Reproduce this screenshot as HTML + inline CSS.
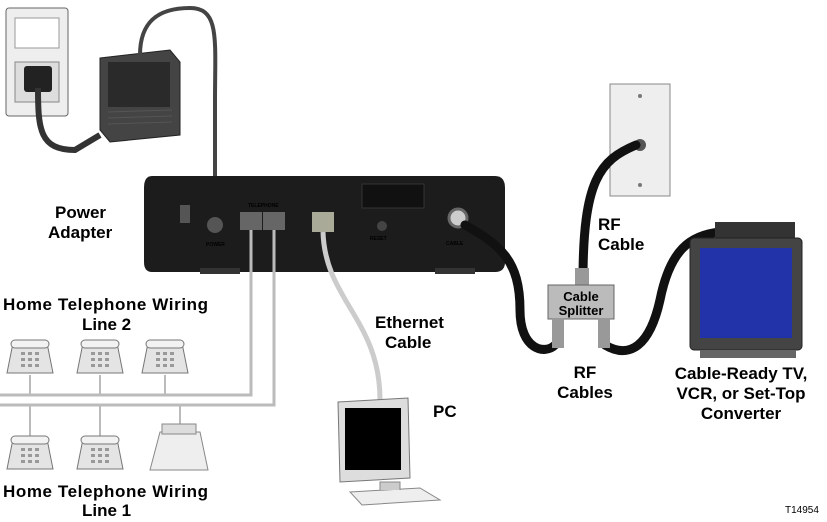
<!DOCTYPE html>
<html><head><meta charset="utf-8"><style>
html,body{margin:0;padding:0;background:#fff;}
svg{display:block;}
text{font-family:"Liberation Sans",Arial,sans-serif;font-weight:bold;fill:#000;}
</style></head><body>
<svg width="827" height="522" viewBox="0 0 827 522" xmlns="http://www.w3.org/2000/svg">
<defs>
<g id="ph">
<path d="M0 33 L5 8 Q6 2 12 2 L34 2 Q40 2 41 8 L46 33 Z" fill="#e4e4e4" stroke="#777"/>
<rect x="4" y="0" width="38" height="8" rx="4" fill="#f2f2f2" stroke="#777"/>
<g fill="#999"><rect x="14" y="12" width="4" height="3"/><rect x="21" y="12" width="4" height="3"/><rect x="28" y="12" width="4" height="3"/>
<rect x="14" y="18" width="4" height="3"/><rect x="21" y="18" width="4" height="3"/><rect x="28" y="18" width="4" height="3"/>
<rect x="14" y="24" width="4" height="3"/><rect x="21" y="24" width="4" height="3"/><rect x="28" y="24" width="4" height="3"/></g>
</g>
</defs>
<!-- wall outlet -->
<rect x="6" y="8" width="62" height="108" rx="3" fill="#eee" stroke="#666"/>
<rect x="15" y="18" width="44" height="30" fill="#fff" stroke="#999"/>
<rect x="15" y="62" width="44" height="40" fill="#ddd" stroke="#888"/>
<rect x="24" y="66" width="28" height="26" rx="3" fill="#222"/>
<path d="M38 88 C38 130,40 150,75 150 L100 135" stroke="#333" stroke-width="6" fill="none"/>
<!-- power adapter -->
<path d="M100 58 L170 50 L180 62 L180 135 L110 142 L100 130 Z" fill="#444" stroke="#222"/>
<rect x="108" y="62" width="62" height="45" fill="#2a2a2a"/>
<g stroke="#555" stroke-width="1"><line x1="108" y1="112" x2="172" y2="110"/><line x1="108" y1="118" x2="172" y2="116"/><line x1="108" y1="124" x2="172" y2="122"/></g>
<path d="M140 55 C140 20,160 8,190 8 C220 8,215 40,215 100 L215 225" stroke="#444" stroke-width="4" fill="none"/>
<!-- modem -->
<path d="M152 176 L495 176 Q505 176 505 188 L505 262 Q505 272 495 272 L152 272 Q144 272 144 262 L144 188 Q144 176 152 176 Z" fill="#1c1c1c"/>
<rect x="362" y="184" width="62" height="24" fill="#111" stroke="#333"/>
<rect x="180" y="205" width="10" height="18" fill="#555"/>
<circle cx="215" cy="225" r="8" fill="#555"/>
<rect x="240" y="212" width="22" height="18" fill="#666"/><rect x="263" y="212" width="22" height="18" fill="#666"/>
<rect x="312" y="212" width="22" height="20" fill="#aa9"/>
<circle cx="382" cy="226" r="5" fill="#444"/>
<circle cx="458" cy="218" r="9" fill="#ccc" stroke="#666" stroke-width="3"/>
<rect x="200" y="268" width="40" height="6" fill="#333"/><rect x="435" y="268" width="40" height="6" fill="#333"/>
<g font-size="5" style="font-weight:normal"><text x="206" y="246" fill="#999">POWER</text><text x="248" y="207" fill="#999">TELEPHONE</text><text x="446" y="245" fill="#999">CABLE</text><text x="370" y="240" fill="#999">RESET</text></g>
<!-- telephone wiring -->
<path d="M251 230 L251 395 L0 395" stroke="#bbb" stroke-width="3" fill="none"/>
<path d="M274 230 L274 405 L0 405" stroke="#bbb" stroke-width="3" fill="none"/>
<g stroke="#bbb" stroke-width="2"><line x1="30" y1="375" x2="30" y2="395"/><line x1="100" y1="375" x2="100" y2="395"/><line x1="165" y1="375" x2="165" y2="395"/>
<line x1="30" y1="405" x2="30" y2="437"/><line x1="100" y1="405" x2="100" y2="437"/><line x1="180" y1="405" x2="180" y2="432"/></g>
<use href="#ph" x="7" y="340"/><use href="#ph" x="77" y="340"/><use href="#ph" x="142" y="340"/>
<use href="#ph" x="7" y="436"/><use href="#ph" x="77" y="436"/>
<path d="M150 470 L160 432 L200 432 L208 470 Z" fill="#eee" stroke="#888"/>
<rect x="162" y="424" width="34" height="10" fill="#ddd" stroke="#888"/>
<!-- ethernet cable -->
<path d="M323 232 C325 300,380 320,380 400" stroke="#ccc" stroke-width="5" fill="none"/>
<!-- PC -->
<path d="M338 402 L408 398 L410 478 L340 482 Z" fill="#ddd" stroke="#777"/>
<rect x="345" y="408" width="56" height="62" fill="#000"/>
<path d="M350 492 L420 488 L440 500 L362 505 Z" fill="#eee" stroke="#888"/>
<path d="M380 490 L380 482 L400 482 L400 490" fill="#ccc" stroke="#888"/>
<!-- wall plate RF -->
<rect x="610" y="84" width="60" height="112" fill="#eee" stroke="#888"/>
<circle cx="640" cy="96" r="2" fill="#777"/><circle cx="640" cy="185" r="2" fill="#777"/>
<circle cx="640" cy="145" r="6" fill="#555"/>
<g stroke="#111" stroke-width="9" fill="none" stroke-linecap="round">
<path d="M465 225 C500 245,520 260,520 310 C520 350,545 355,555 345"/>
<path d="M636 145 C600 160,583 180,583 280"/>
<path d="M605 345 C630 360,650 345,660 300 C670 250,690 235,720 232"/>
</g>
<!-- splitter -->
<rect x="575" y="268" width="14" height="20" fill="#999"/>
<rect x="548" y="285" width="66" height="34" fill="#bbb" stroke="#666"/>
<rect x="552" y="318" width="12" height="30" fill="#999"/><rect x="598" y="318" width="12" height="30" fill="#999"/>
<text x="581" y="301" font-size="13" text-anchor="middle">Cable</text>
<text x="581" y="315" font-size="13" text-anchor="middle">Splitter</text>
<!-- TV -->
<rect x="715" y="222" width="80" height="18" fill="#333"/>
<rect x="690" y="238" width="112" height="112" rx="4" fill="#444" stroke="#222"/>
<rect x="700" y="248" width="92" height="90" fill="#2233aa"/>
<rect x="700" y="350" width="96" height="8" fill="#666"/>
<g font-size="17">
<text x="55" y="218">Power</text><text x="48" y="238">Adapter</text>
<text x="3" y="310" textLength="205">Home Telephone Wiring</text><text x="82" y="330">Line 2</text>
<text x="3" y="497" textLength="205">Home Telephone Wiring</text><text x="82" y="516">Line 1</text>
<text x="375" y="328">Ethernet</text><text x="385" y="348">Cable</text>
<text x="433" y="417">PC</text>
<text x="598" y="230">RF</text><text x="598" y="250">Cable</text>
<text x="585" y="378" text-anchor="middle">RF</text><text x="585" y="398" text-anchor="middle">Cables</text>
<text x="741" y="379" text-anchor="middle">Cable-Ready TV,</text><text x="741" y="399" text-anchor="middle">VCR, or Set-Top</text><text x="741" y="419" text-anchor="middle">Converter</text>
</g>
<text x="785" y="513" font-size="10" style="font-weight:normal">T14954</text>
</svg>
</body></html>
